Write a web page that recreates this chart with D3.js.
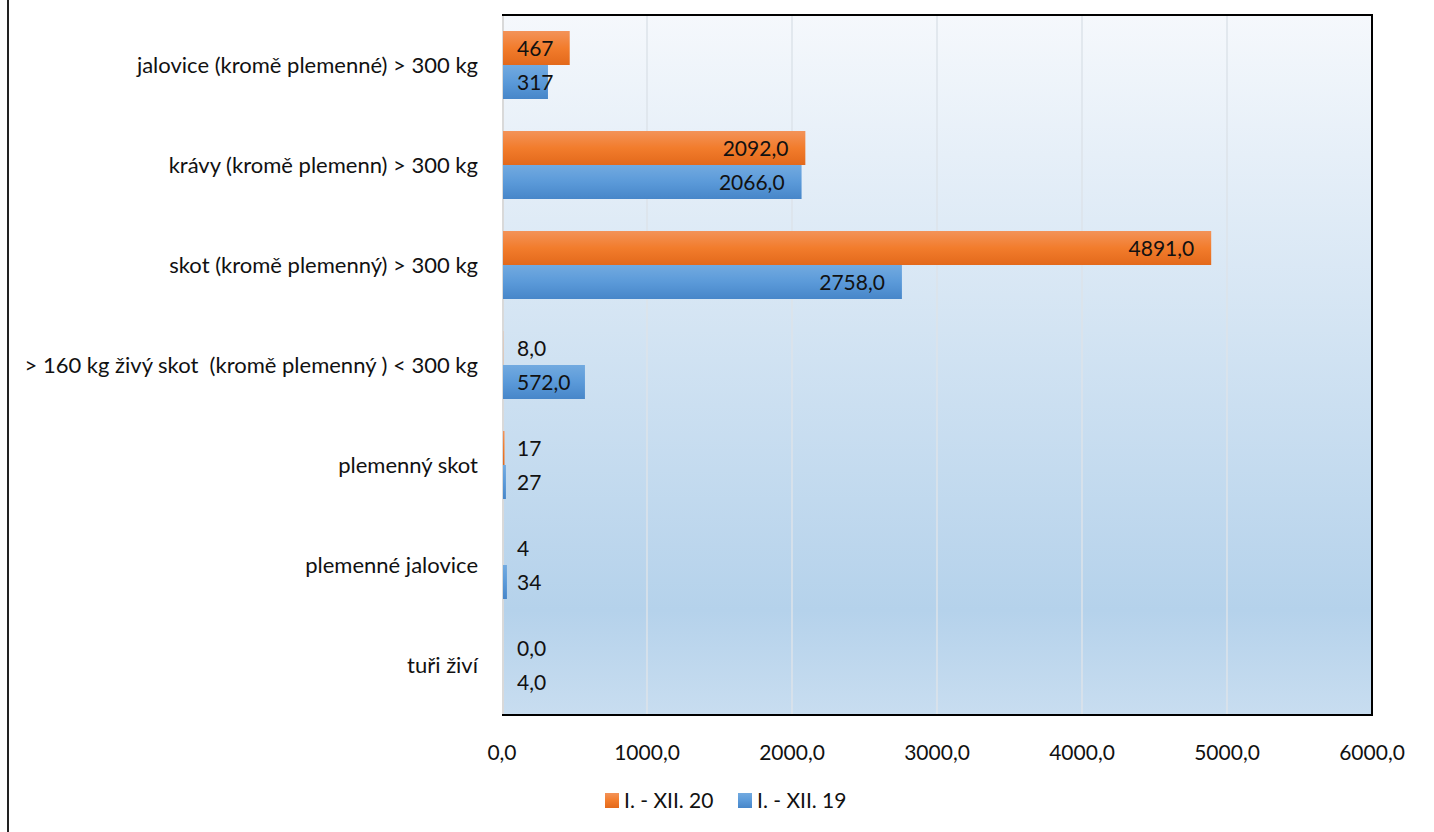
<!DOCTYPE html>
<html>
<head>
<meta charset="utf-8">
<script src="https://cdn.jsdelivr.net/npm/d3@7"></script>
<style>
  body { margin: 0; background: #fff; }
  svg { display: block; font-family: "Lato", "Open Sans", sans-serif; }
  text { white-space: pre; }
</style>
</head>
<body>
<div id="chart"></div>
<script>
// Categories, top to bottom
const categories = [
    "jalovice (kromě plemenné) > 300 kg",
    "krávy (kromě plemenn) > 300 kg",
    "skot (kromě plemenný) > 300 kg",
    "> 160 kg živý skot  (kromě plemenný ) < 300 kg",
    "plemenný skot",
    "plemenné jalovice",
    "tuři živí"
];

// Series values
const values2020 = [467, 2092, 4891, 8, 17, 4, 0];
const values2019 = [317, 2066, 2758, 572, 27, 34, 4];

// Data label texts as shown in the chart
const labels2020 = ["467", "2092,0", "4891,0", "8,0", "17", "4", "0,0"];
const labels2019 = ["317", "2066,0", "2758,0", "572,0", "27", "34", "4,0"];

const seriesNames = ["I. - XII. 20", "I. - XII. 19"];
const xTicks = [0, 1000, 2000, 3000, 4000, 5000, 6000];

const width = 1434, height = 832;
const plot = { left: 502, right: 1372, top: 15, bottom: 715 };
const fontSize = 21;

const svg = d3.select("#chart").append("svg")
    .attr("width", width)
    .attr("height", height);

// Gradients
const defs = svg.append("defs");
const bg = defs.append("linearGradient").attr("id", "bg")
    .attr("x1", 0).attr("y1", 0).attr("x2", 0).attr("y2", 1);
bg.append("stop").attr("offset", "0%").attr("stop-color", "#f5f8fc");
bg.append("stop").attr("offset", "85%").attr("stop-color", "#b5d2eb");
bg.append("stop").attr("offset", "100%").attr("stop-color", "#c8ddf0");

const gOrange = defs.append("linearGradient").attr("id", "gOrange")
    .attr("x1", 0).attr("y1", 0).attr("x2", 0).attr("y2", 1);
gOrange.append("stop").attr("offset", "0%").attr("stop-color", "#f39359");
gOrange.append("stop").attr("offset", "50%").attr("stop-color", "#f27c2c");
gOrange.append("stop").attr("offset", "100%").attr("stop-color", "#e3691b");

const gBlue = defs.append("linearGradient").attr("id", "gBlue")
    .attr("x1", 0).attr("y1", 0).attr("x2", 0).attr("y2", 1);
gBlue.append("stop").attr("offset", "0%").attr("stop-color", "#72aae0");
gBlue.append("stop").attr("offset", "50%").attr("stop-color", "#5b9ad9");
gBlue.append("stop").attr("offset", "100%").attr("stop-color", "#4786c9");

// Outer left border line
svg.append("line")
    .attr("x1", 8).attr("x2", 8).attr("y1", 0).attr("y2", height)
    .attr("stroke", "#222").attr("stroke-width", 2);

// Scales
const x = d3.scaleLinear().domain([0, 6000]).range([plot.left, plot.right]);
const y0 = d3.scaleBand().domain(categories).range([plot.top, plot.bottom]).paddingInner(0.32).paddingOuter(0.16);
const y1 = d3.scaleBand().domain(seriesNames).range([0, y0.bandwidth()]);

// Plot background
svg.append("rect")
    .attr("x", plot.left).attr("y", plot.top)
    .attr("width", plot.right - plot.left).attr("height", plot.bottom - plot.top)
    .attr("fill", "url(#bg)");

// Gridlines
svg.append("g")
    .selectAll("line")
    .data(xTicks.slice(1, -1))
    .join("line")
    .attr("x1", d => x(d)).attr("x2", d => x(d))
    .attr("y1", plot.top).attr("y2", plot.bottom)
    .attr("stroke", "#dde3ea").attr("stroke-width", 1.5);

svg.append("line")
    .attr("x1", plot.left + 1).attr("x2", plot.left + 1)
    .attr("y1", plot.top).attr("y2", plot.bottom)
    .attr("stroke", "#d9d9d9").attr("stroke-width", 2);

// Bars
const rows = categories.map((c, i) => ({
    cat: c,
    bars: [
        { key: seriesNames[0], value: values2020[i], label: labels2020[i], fill: "url(#gOrange)" },
        { key: seriesNames[1], value: values2019[i], label: labels2019[i], fill: "url(#gBlue)" }
    ]
}));

const groups = svg.append("g")
    .selectAll("g")
    .data(rows)
    .join("g")
    .attr("transform", d => `translate(0,${y0(d.cat)})`);

groups.selectAll("rect")
    .data(d => d.bars)
    .join("rect")
    .attr("x", x(0) + 1)
    .attr("y", d => y1(d.key))
    .attr("width", d => Math.max(0, x(d.value) - x(0) - 1))
    .attr("height", y1.bandwidth())
    .attr("fill", d => d.fill);

// Data labels
groups.selectAll("text")
    .data(d => d.bars)
    .join("text")
    .attr("y", d => y1(d.key) + y1.bandwidth() / 2)
    .attr("dy", "0.36em")
    .attr("text-anchor", "end")
    .attr("font-size", fontSize)
    .attr("fill", "#111")
    .text(d => d.label)
    .each(function (d) {
        const w = this.getComputedTextLength();
        const xx = Math.max(x(d.value) - 17, x(0) + 15 + w);
        d3.select(this).attr("x", xx);
    });

// Plot frame (top, right, bottom)
svg.append("path")
    .attr("d", `M${plot.left},${plot.top}H${plot.right}V${plot.bottom}H${plot.left}`)
    .attr("fill", "none").attr("stroke", "#000").attr("stroke-width", 2);

// Category axis labels
svg.append("g")
    .selectAll("text")
    .data(categories)
    .join("text")
    .attr("x", 478)
    .attr("y", d => y0(d) + y0.bandwidth() / 2)
    .attr("dy", "0.36em")
    .attr("text-anchor", "end")
    .attr("font-size", 22)
    .attr("fill", "#111")
    .text(d => d);

// X axis tick labels
svg.append("g")
    .selectAll("text")
    .data(xTicks)
    .join("text")
    .attr("x", d => x(d))
    .attr("y", 752)
    .attr("dy", "0.36em")
    .attr("text-anchor", "middle")
    .attr("font-size", fontSize)
    .attr("fill", "#111")
    .text(d => d3.format(".1f")(d).replace(".", ","));

// Legend
const legend = svg.append("g").attr("transform", "translate(605,800)");
const legendItems = [
    { name: seriesNames[0], fill: "url(#gOrange)", dx: 0 },
    { name: seriesNames[1], fill: "url(#gBlue)", dx: 133 }
];
const li = legend.selectAll("g")
    .data(legendItems)
    .join("g")
    .attr("transform", d => `translate(${d.dx},0)`);
li.append("rect")
    .attr("x", 0).attr("y", -7)
    .attr("width", 14).attr("height", 15)
    .attr("fill", d => d.fill);
li.append("text")
    .attr("x", 19).attr("y", 0).attr("dy", "0.36em")
    .attr("font-size", fontSize)
    .attr("fill", "#111")
    .text(d => d.name);
</script>
</body>
</html>
